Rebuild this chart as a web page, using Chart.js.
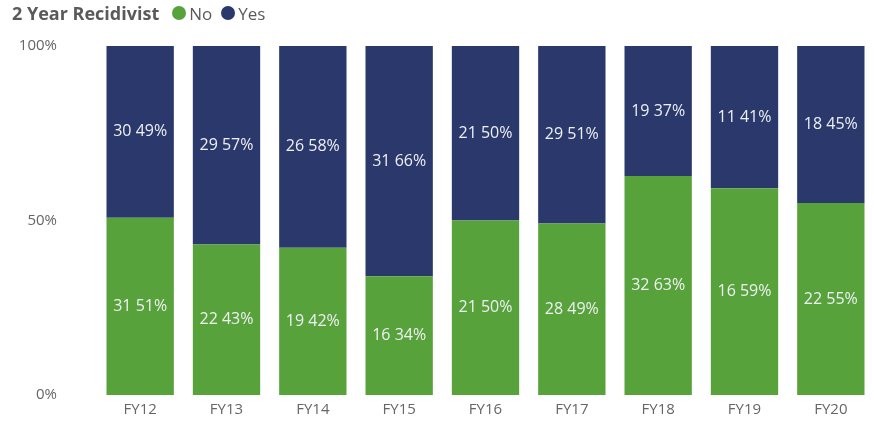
<!DOCTYPE html>
<html>
<head>
<meta charset="utf-8">
<script src="https://cdn.jsdelivr.net/npm/chart.js@4/dist/chart.umd.min.js"></script>
<style>
  html, body { margin: 0; padding: 0; background: #fff; overflow: hidden; }
  #wrap { position: relative; width: 874px; height: 423px; overflow: hidden; }
  #hdr { position: absolute; left: 12px; top: 1px; font-family: "Open Sans", sans-serif; font-size: 17px; color: #5a5a5a; display: flex; align-items: center; white-space: nowrap; }
  #hdr b { font-weight: 700; font-size: 18px; margin-right: 13px; }
  .dot { display: inline-block; width: 14px; height: 14px; border-radius: 50%; margin-right: 3px; }
  .it { display: inline-flex; align-items: center; margin-right: 9px; }
  #cv { position: absolute; left: 0; top: -3px; width: 874px; height: 447px; }
</style>
</head>
<body>
<div id="wrap">
  <div id="cv"><canvas id="c"></canvas></div>
  <div id="hdr"><b>2 Year Recidivist</b>
    <span class="it"><span class="dot" style="background:#58A23B"></span>No</span>
    <span class="it"><span class="dot" style="background:#2A386B"></span>Yes</span>
  </div>
</div>
<script>
const categories = ["FY12","FY13","FY14","FY15","FY16","FY17","FY18","FY19","FY20"];
const noCounts  = [31, 22, 19, 16, 21, 28, 32, 16, 22];
const yesCounts = [30, 29, 26, 31, 21, 29, 19, 11, 18];
const yTickLabels = {0: "0%", 50: "50%", 100: "100%"};

const totals = categories.map((_, i) => noCounts[i] + yesCounts[i]);
const noPct  = noCounts.map((v, i) => v / totals[i] * 100);
const yesPct = yesCounts.map((v, i) => v / totals[i] * 100);

const labelPlugin = {
  id: "segLabels",
  afterDatasetsDraw(chart) {
    const ctx = chart.ctx;
    ctx.save();
    ctx.font = "16px 'Open Sans', sans-serif";
    ctx.fillStyle = "#EEF0F4";
    ctx.textAlign = "center";
    ctx.textBaseline = "middle";
    chart.data.datasets.forEach((ds, di) => {
      const meta = chart.getDatasetMeta(di);
      meta.data.forEach((bar, i) => {
        const p = bar.getProps(["x", "y", "base"], true);
        const cy = (p.y + p.base) / 2;
        const txt = ds.counts[i] + " " + Math.round(ds.data[i]) + "%";
        ctx.fillText(txt, p.x, cy);
      });
    });
    ctx.restore();
  }
};

new Chart(document.getElementById("c"), {
  type: "bar",
  data: {
    labels: categories,
    datasets: [
      { label: "No", data: noPct, counts: noCounts, backgroundColor: "#58A23B", categoryPercentage: 1, barPercentage: 0.78 },
      { label: "Yes", data: yesPct, counts: yesCounts, backgroundColor: "#2A386B", categoryPercentage: 1, barPercentage: 0.78 }
    ]
  },
  options: {
    responsive: true,
    maintainAspectRatio: false,
    animation: false,
    layout: { padding: { top: 46, left: 0, right: 0, bottom: 0 } },
    plugins: { legend: { display: false }, tooltip: { enabled: false } },
    scales: {
      x: {
        stacked: true,
        grid: { display: false, drawTicks: false },
        border: { display: false },
        ticks: { color: "#666", font: { family: "Open Sans", size: 15 }, padding: 6 },
        afterFit(s) { s.height = 28; }
      },
      y: {
        stacked: true,
        min: 0, max: 100,
        afterBuildTicks(s) { s.ticks = [{value: 0}, {value: 50}, {value: 100}]; },
        grid: { display: false, drawTicks: false },
        border: { display: false },
        ticks: { color: "#666", font: { family: "Open Sans", size: 15 }, padding: 40,
                 callback: v => yTickLabels[v] },
        afterFit(s) { s.width = 97; }
      }
    }
  },
  plugins: [labelPlugin]
});
</script>
</body>
</html>
